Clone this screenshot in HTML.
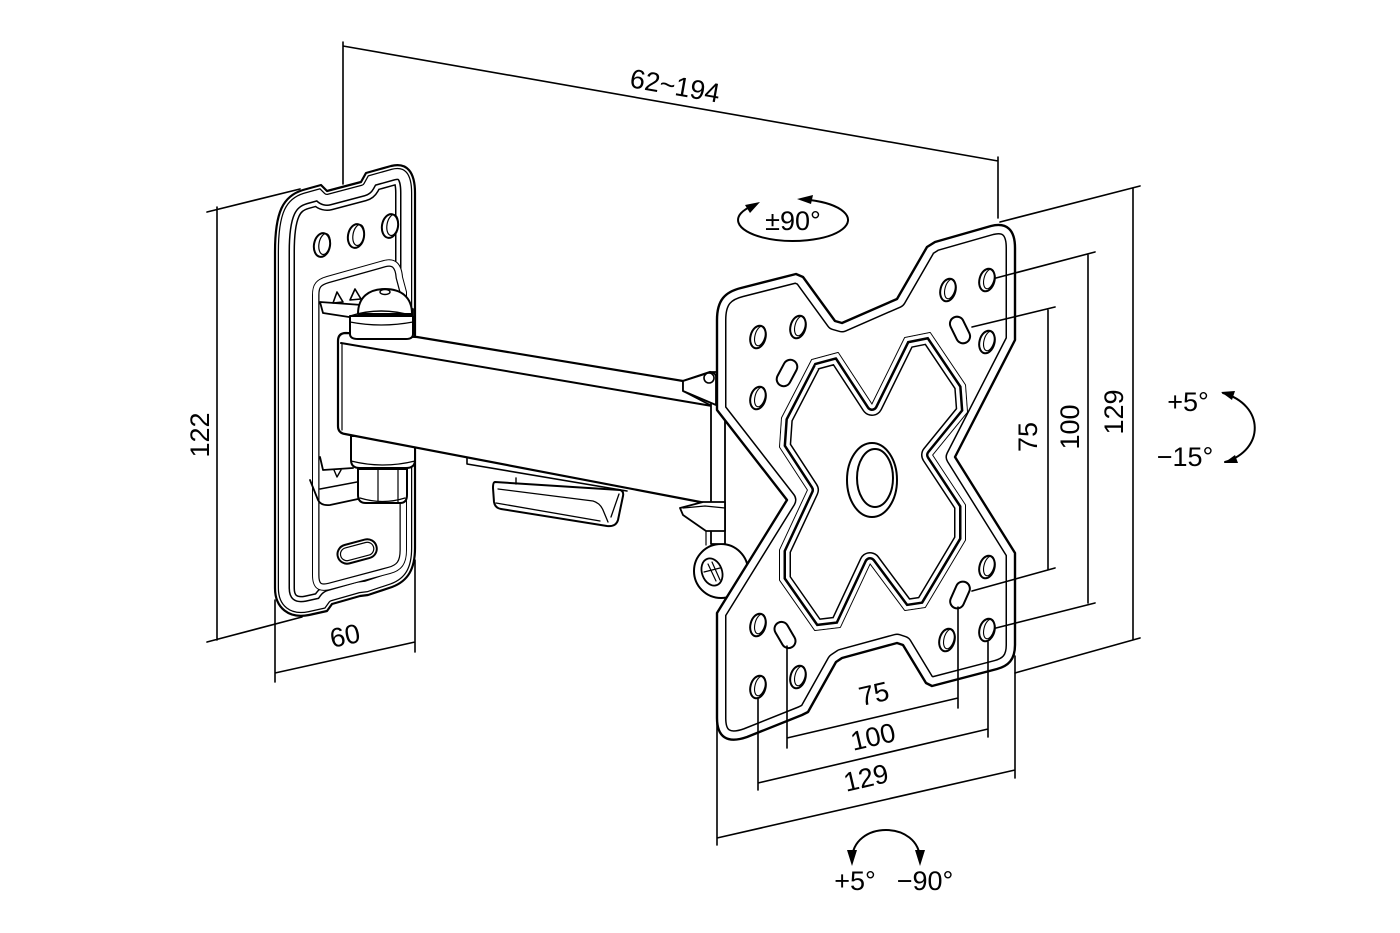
<!DOCTYPE html>
<html><head><meta charset="utf-8"><style>
html,body{margin:0;padding:0;background:#fff;}
svg{display:block;}
text{font-family:"Liberation Sans",Arial,sans-serif;font-size:27px;fill:#000;}
</style></head><body>
<svg width="1400" height="933" viewBox="0 0 1400 933" xmlns="http://www.w3.org/2000/svg">
<defs>
<clipPath id="cwp"><path d="M275,252 C275,212 283,196 303,190 L321,185 L327,191 L361,182 L366,173 L391,166 C407,162 415,172 415,193 L415,548 C415,569 408,581 392,587 L368,595 L360,596 L332,604 L327,611 L309,615 C289,619 275,608 275,588 Z"/></clipPath>
<clipPath id="cwin"><path d="M313,295 C313,284 317,280 327,277 L384,261 C395,258 401,264 402,277 L406,292 L406,550 C406,564 401,570 390,573 L330,589 C318,592 313,587 313,575 Z"/></clipPath>
<clipPath id="cvp"><path d="M717,320 C717,300 725,292 741,288 L796,274 L803,277 L835,321 L842,323 L897,299 L927,247 L935,242 L991,226 C1007,222 1015,230 1015,248 L1015,340 L955,457 L1015,553 L1015,645 C1015,660 1008,666 997,669 L932,686 L926,683 L903,645 L897,643 L842,658 L836,662 L808,712 L802,715 L747,737 C727,744 717,737 717,718 L717,613 L787,500 L717,410 Z"/></clipPath>
<clipPath id="cxs"><path d="M812,360 L838,353 L872,405 L905,338 L930,333 L965,385 L967,412 L932,455 L965,505 L965,540 L925,607 L905,610 L870,563 L840,627 L815,630 L780,580 L780,550 L808,490 L780,447 L782,418 Z"/></clipPath>
</defs>

<g fill="none" stroke="#000" stroke-linejoin="round" stroke-linecap="round">

<!-- ============ WALL PLATE ============ -->
<path d="M275,252 C275,212 283,196 303,190 L321,185 L327,191 L361,182 L366,173 L391,166 C407,162 415,172 415,193 L415,548 C415,569 408,581 392,587 L368,595 L360,596 L332,604 L327,611 L309,615 C289,619 275,608 275,588 Z" fill="#fff" stroke="none"/>
<g clip-path="url(#cwp)">
<path d="M275,252 C275,212 283,196 303,190 L321,185 L327,191 L361,182 L366,173 L391,166 C407,162 415,172 415,193 L415,548 C415,569 408,581 392,587 L368,595 L360,596 L332,604 L327,611 L309,615 C289,619 275,608 275,588 Z" stroke="#000" stroke-width="40"/>
<path d="M275,252 C275,212 283,196 303,190 L321,185 L327,191 L361,182 L366,173 L391,166 C407,162 415,172 415,193 L415,548 C415,569 408,581 392,587 L368,595 L360,596 L332,604 L327,611 L309,615 C289,619 275,608 275,588 Z" stroke="#fff" stroke-width="37"/>
<path d="M275,252 C275,212 283,196 303,190 L321,185 L327,191 L361,182 L366,173 L391,166 C407,162 415,172 415,193 L415,548 C415,569 408,581 392,587 L368,595 L360,596 L332,604 L327,611 L309,615 C289,619 275,608 275,588 Z" stroke="#000" stroke-width="30"/>
<path d="M275,252 C275,212 283,196 303,190 L321,185 L327,191 L361,182 L366,173 L391,166 C407,162 415,172 415,193 L415,548 C415,569 408,581 392,587 L368,595 L360,596 L332,604 L327,611 L309,615 C289,619 275,608 275,588 Z" stroke="#fff" stroke-width="27"/>
<path d="M275,252 C275,212 283,196 303,190 L321,185 L327,191 L361,182 L366,173 L391,166 C407,162 415,172 415,193 L415,548 C415,569 408,581 392,587 L368,595 L360,596 L332,604 L327,611 L309,615 C289,619 275,608 275,588 Z" stroke="#000" stroke-width="8"/>
<path d="M275,252 C275,212 283,196 303,190 L321,185 L327,191 L361,182 L366,173 L391,166 C407,162 415,172 415,193 L415,548 C415,569 408,581 392,587 L368,595 L360,596 L332,604 L327,611 L309,615 C289,619 275,608 275,588 Z" stroke="#fff" stroke-width="5.5"/>
</g>
<path d="M275,252 C275,212 283,196 303,190 L321,185 L327,191 L361,182 L366,173 L391,166 C407,162 415,172 415,193 L415,548 C415,569 408,581 392,587 L368,595 L360,596 L332,604 L327,611 L309,615 C289,619 275,608 275,588 Z" stroke-width="2.2"/>

<!-- holes -->
<g stroke-width="2">
<ellipse cx="322" cy="245" rx="8" ry="12" transform="rotate(10 322 245)" fill="#fff"/>
<ellipse cx="356" cy="236" rx="8" ry="12" transform="rotate(10 356 236)" fill="#fff"/>
<ellipse cx="390" cy="226" rx="8" ry="12" transform="rotate(10 390 226)" fill="#fff"/>
</g>
<g stroke-width="1.2">
<ellipse cx="324.5" cy="244" rx="5.5" ry="10.5" transform="rotate(10 324 244)"/>
<ellipse cx="358.5" cy="235" rx="5.5" ry="10.5" transform="rotate(10 358 235)"/>
<ellipse cx="392.5" cy="225" rx="5.5" ry="10.5" transform="rotate(10 392 225)"/>
</g>

<!-- window -->
<path d="M313,295 C313,284 317,280 327,277 L384,261 C395,258 401,264 402,277 L406,292 L406,550 C406,564 401,570 390,573 L330,589 C318,592 313,587 313,575 Z" fill="#fff" stroke-width="2"/>
<g clip-path="url(#cwin)">
<path d="M313,295 C313,284 317,280 327,277 L384,261 C395,258 401,264 402,277 L406,292 L406,550 C406,564 401,570 390,573 L330,589 C318,592 313,587 313,575 Z" stroke="#000" stroke-width="13"/>
<path d="M313,295 C313,284 317,280 327,277 L384,261 C395,258 401,264 402,277 L406,292 L406,550 C406,564 401,570 390,573 L330,589 C318,592 313,587 313,575 Z" stroke="#fff" stroke-width="10.5"/>
</g>
<!-- slot -->
<rect x="337" y="542" width="40" height="19" rx="9.5" transform="rotate(-15 357 551)" fill="#fff" stroke-width="2"/>
<rect x="340" y="545" width="34" height="13" rx="6.5" transform="rotate(-15 357 551)" stroke-width="1.2"/>

<!-- top hinge bracket -->
<path d="M320,302 L323,313 L349,317 L413,315 L413,309 L362,305 Z" fill="#fff" stroke-width="1.8"/>
<path d="M333,303 L337,292 L343,302 Z M350,300 L355,289 L361,299 Z" fill="#fff" stroke-width="1.6"/>

<!-- lower hinge brackets -->
<path d="M320,457 L323,470 L353,468" stroke-width="1.8"/>
<path d="M334,470 L337,477 L341,470" stroke-width="1.4"/>
<path d="M310,480 L318,500 Q321,506 330,505 L358,499" stroke-width="1.8"/>
<path d="M320,489 L357,482" stroke-width="1.4"/>
<!-- lower collar -->
<path d="M351,436 L351,460 Q351,468 360,468 L406,468 Q415,468 415,460 L415,436 Z" fill="#fff" stroke-width="2"/>
<path d="M351,461 Q383,469 415,461" stroke-width="1.2"/>
<!-- nut -->
<path d="M358,469 L358,495 Q358,503 366,503 L400,503 Q407,503 407,495 L407,469 Z" fill="#fff" stroke-width="2"/>
<path d="M378,470 L378,502 M398,470 L398,502 M360,498 Q383,505 405,498" stroke-width="1.2"/>

<!-- ============ ARM ============ -->
<path d="M338,341 Q338,333 346,333 L417,337 L683,381 L710,372 L716,375 L716,505 L345,434 Q338,433 338,426 Z" fill="#fff" stroke-width="2.2"/>
<path d="M341,343 L712,406" stroke-width="2"/>
<path d="M342,344 L342,430" stroke-width="1.2"/>
<path d="M683,381 L683,391 L712,406" stroke-width="1.6"/>
<path d="M467,458 L467,464 L627,491" stroke-width="1.6"/>
<!-- under-arm clip -->
<path d="M495,482 L620,490 Q624,491 623,496 L618,520 Q616,527 607,526 L501,509 Q495,508 494,502 L493,488 Q493,482 495,482 Z" fill="#fff" stroke-width="2"/>
<path d="M498,489 L593,501 Q600,503 603,510 L608,522 M496,503 L600,521 M611,517 L619,494" stroke-width="1.3"/>
<path d="M516,478 L516,484" stroke-width="1.4"/>

<!-- top collar & dome -->
<path d="M350,316 L350,334 Q350,339 358,339 L406,339 Q413,339 413,334 L413,316 Z" fill="#fff" stroke-width="2"/>
<path d="M350,322 Q381,328 413,322" stroke-width="1.2"/>
<path d="M358,314 C358,297 369,289 385,289 C401,289 412,297 412,314 Z" fill="#fff" stroke-width="2"/>
<ellipse cx="385" cy="292" rx="5" ry="2.5" stroke-width="1.4"/>
<path d="M350,316 Q381,306 413,316" stroke-width="1.4"/>

<!-- ============ PIVOT ============ -->
<circle cx="721" cy="571" r="27" fill="#fff" stroke-width="2"/>
<ellipse cx="712" cy="572" rx="10" ry="14" transform="rotate(-20 712 572)" fill="#fff" stroke-width="1.8"/>
<path d="M708,564 L716,581 M712,562 L720,580 M704,572 L720,568" stroke-width="1.2"/>
<rect x="711" y="372" width="14" height="172" fill="#fff" stroke-width="1.8"/>
<path d="M683,381 L708,373 Q714,371 716,376 L716,405 L683,391 Z" fill="#fff" stroke-width="1.8"/>
<circle cx="709" cy="378" r="5" fill="#fff" stroke-width="1.6"/>
<path d="M680,508 L703,502 L725,502 L725,531 L706,531 L683,515 Z" fill="#fff" stroke-width="1.8"/>
<path d="M683,508 L705,506 L725,508 M706,531 L706,545" stroke-width="1.2"/>

<!-- ============ VESA PLATE ============ -->
<path d="M717,320 C717,300 725,292 741,288 L796,274 L803,277 L835,321 L842,323 L897,299 L927,247 L935,242 L991,226 C1007,222 1015,230 1015,248 L1015,340 L955,457 L1015,553 L1015,645 C1015,660 1008,666 997,669 L932,686 L926,683 L903,645 L897,643 L842,658 L836,662 L808,712 L802,715 L747,737 C727,744 717,737 717,718 L717,613 L787,500 L717,410 Z" fill="#fff" stroke="none"/>
<g clip-path="url(#cvp)">
<path d="M717,320 C717,300 725,292 741,288 L796,274 L803,277 L835,321 L842,323 L897,299 L927,247 L935,242 L991,226 C1007,222 1015,230 1015,248 L1015,340 L955,457 L1015,553 L1015,645 C1015,660 1008,666 997,669 L932,686 L926,683 L903,645 L897,643 L842,658 L836,662 L808,712 L802,715 L747,737 C727,744 717,737 717,718 L717,613 L787,500 L717,410 Z" stroke="#000" stroke-width="19"/>
<path d="M717,320 C717,300 725,292 741,288 L796,274 L803,277 L835,321 L842,323 L897,299 L927,247 L935,242 L991,226 C1007,222 1015,230 1015,248 L1015,340 L955,457 L1015,553 L1015,645 C1015,660 1008,666 997,669 L932,686 L926,683 L903,645 L897,643 L842,658 L836,662 L808,712 L802,715 L747,737 C727,744 717,737 717,718 L717,613 L787,500 L717,410 Z" stroke="#fff" stroke-width="16"/>
</g>
<path d="M717,320 C717,300 725,292 741,288 L796,274 L803,277 L835,321 L842,323 L897,299 L927,247 L935,242 L991,226 C1007,222 1015,230 1015,248 L1015,340 L955,457 L1015,553 L1015,645 C1015,660 1008,666 997,669 L932,686 L926,683 L903,645 L897,643 L842,658 L836,662 L808,712 L802,715 L747,737 C727,744 717,737 717,718 L717,613 L787,500 L717,410 Z" stroke-width="2.4"/>

<!-- X relief -->
<path d="M812,360 L838,353 L872,405 L905,338 L930,333 L965,385 L967,412 L932,455 L965,505 L965,540 L925,607 L905,610 L870,563 L840,627 L815,630 L780,580 L780,550 L808,490 L780,447 L782,418 Z" stroke-width="2"/>
<g clip-path="url(#cxs)">
<path d="M812,360 L838,353 L872,405 L905,338 L930,333 L965,385 L967,412 L932,455 L965,505 L965,540 L925,607 L905,610 L870,563 L840,627 L815,630 L780,580 L780,550 L808,490 L780,447 L782,418 Z" stroke="#000" stroke-width="22"/>
<path d="M812,360 L838,353 L872,405 L905,338 L930,333 L965,385 L967,412 L932,455 L965,505 L965,540 L925,607 L905,610 L870,563 L840,627 L815,630 L780,580 L780,550 L808,490 L780,447 L782,418 Z" stroke="#fff" stroke-width="19"/>
<path d="M812,360 L838,353 L872,405 L905,338 L930,333 L965,385 L967,412 L932,455 L965,505 L965,540 L925,607 L905,610 L870,563 L840,627 L815,630 L780,580 L780,550 L808,490 L780,447 L782,418 Z" stroke="#000" stroke-width="12"/>
<path d="M812,360 L838,353 L872,405 L905,338 L930,333 L965,385 L967,412 L932,455 L965,505 L965,540 L925,607 L905,610 L870,563 L840,627 L815,630 L780,580 L780,550 L808,490 L780,447 L782,418 Z" stroke="#fff" stroke-width="7"/>
</g>

<!-- center ring -->
<ellipse cx="872" cy="480" rx="25" ry="37" stroke-width="2"/>
<ellipse cx="875" cy="478" rx="18" ry="29" stroke-width="2"/>

<!-- VESA holes -->
<g stroke-width="2" fill="#fff">
<ellipse cx="758" cy="337" rx="7.5" ry="11.5" transform="rotate(15 758 337)"/>
<ellipse cx="798" cy="327" rx="7.5" ry="11.5" transform="rotate(15 798 327)"/>
<ellipse cx="758" cy="398" rx="7.5" ry="11.5" transform="rotate(15 758 398)"/>
<ellipse cx="948" cy="290" rx="7.5" ry="11.5" transform="rotate(15 948 290)"/>
<ellipse cx="987" cy="280" rx="7.5" ry="11.5" transform="rotate(15 987 280)"/>
<ellipse cx="987" cy="342" rx="7.5" ry="11.5" transform="rotate(15 987 342)"/>
<ellipse cx="987" cy="567" rx="7.5" ry="11.5" transform="rotate(15 987 567)"/>
<ellipse cx="987" cy="630" rx="7.5" ry="11.5" transform="rotate(15 987 630)"/>
<ellipse cx="947" cy="640" rx="7.5" ry="11.5" transform="rotate(15 947 640)"/>
<ellipse cx="758" cy="625" rx="7.5" ry="11.5" transform="rotate(15 758 625)"/>
<ellipse cx="798" cy="677" rx="7.5" ry="11.5" transform="rotate(15 798 677)"/>
<ellipse cx="758" cy="687" rx="7.5" ry="11.5" transform="rotate(15 758 687)"/>
<rect x="780" y="359" width="14" height="28" rx="7" transform="rotate(28 787 373)"/>
<rect x="953" y="316" width="14" height="28" rx="7" transform="rotate(-26 960 330)"/>
<rect x="953" y="581" width="14" height="28" rx="7" transform="rotate(24 960 595)"/>
<rect x="778" y="621" width="14" height="28" rx="7" transform="rotate(-30 785 635)"/>
</g>
<g stroke-width="1.1">
<ellipse cx="760" cy="336" rx="5" ry="10" transform="rotate(15 760 336)"/>
<ellipse cx="800" cy="326" rx="5" ry="10" transform="rotate(15 800 326)"/>
<ellipse cx="760" cy="397" rx="5" ry="10" transform="rotate(15 760 397)"/>
<ellipse cx="950" cy="289" rx="5" ry="10" transform="rotate(15 950 289)"/>
<ellipse cx="989" cy="279" rx="5" ry="10" transform="rotate(15 989 279)"/>
<ellipse cx="989" cy="341" rx="5" ry="10" transform="rotate(15 989 341)"/>
<ellipse cx="989" cy="566" rx="5" ry="10" transform="rotate(15 989 566)"/>
<ellipse cx="989" cy="629" rx="5" ry="10" transform="rotate(15 989 629)"/>
<ellipse cx="949" cy="639" rx="5" ry="10" transform="rotate(15 949 639)"/>
<ellipse cx="760" cy="624" rx="5" ry="10" transform="rotate(15 760 624)"/>
<ellipse cx="800" cy="676" rx="5" ry="10" transform="rotate(15 800 676)"/>
<ellipse cx="760" cy="686" rx="5" ry="10" transform="rotate(15 760 686)"/>
</g>

<!-- ============ DIMENSIONS ============ -->
<g stroke-width="1.6">
<!-- 62~194 -->
<path d="M343,42 L343,184 M998,157 L998,218 M343,46 L998,161"/>
<!-- 122 -->
<path d="M217,207 L217,640 M207,212 L300,189 M207,642 L302,617"/>
<!-- 60 -->
<path d="M275,600 L275,682 M415,560 L415,652 M275,673 L415,642"/>
<!-- right 129 -->
<path d="M1000,222 L1140,186 M1133,188 L1133,640 M1015,673 L1140,638"/>
<!-- right 100 -->
<path d="M996,278 L1095,252 M1088,255 L1088,603 M996,628 L1095,603"/>
<!-- right 75 -->
<path d="M972,327 L1055,307 M1048,310 L1048,570 M972,591 L1055,568"/>
<!-- bottom 75 -->
<path d="M787,646 L787,748 M958,607 L958,708 M787,738 L958,698"/>
<!-- bottom 100 -->
<path d="M758,699 L758,790 M988,642 L988,737 M758,783 L988,729"/>
<!-- bottom 129 -->
<path d="M717,722 L717,845 M1015,656 L1015,778 M717,838 L1015,770"/>
</g>

<!-- rotation arrows -->
<path d="M810,200 A55,21 0 1 1 752,206" stroke-width="2"/>
<path d="M1223,393 C1265,405 1265,450 1225,462" stroke-width="2"/>
<path d="M852,860 C852,820 920,820 920,860" stroke-width="2"/>
</g>

<g fill="#000" stroke="none">
<polygon points="797,199 813,195 811,204"/>
<polygon points="760,202 745,205 750,213"/>
<polygon points="1221,392 1235,391 1232,400"/>
<polygon points="1224,463 1238,463 1235,455"/>
<polygon points="852,866 847,850 857,850"/>
<polygon points="920,866 915,850 925,850"/>
</g>

<!-- ============ LABELS ============ -->
<g text-anchor="middle" dominant-baseline="central">
<text x="675" y="86" transform="rotate(10 675 86)">62~194</text>
<text x="200" y="435" transform="rotate(-90 200 435)">122</text>
<text x="345" y="636" transform="rotate(-12 345 636)">60</text>
<text x="1028" y="437" transform="rotate(-90 1028 437)">75</text>
<text x="1070" y="427" transform="rotate(-90 1070 427)">100</text>
<text x="1114" y="412" transform="rotate(-90 1114 412)">129</text>
<text x="874" y="694" transform="rotate(-13 874 694)">75</text>
<text x="873" y="737" transform="rotate(-13 873 737)">100</text>
<text x="866" y="778" transform="rotate(-13 866 778)">129</text>
<text x="793" y="221">±90°</text>
<text x="1188" y="402">+5°</text>
<text x="1185" y="457">−15°</text>
<text x="855" y="881">+5°</text>
<text x="925" y="881">−90°</text>
</g>
</svg>
</body></html>
